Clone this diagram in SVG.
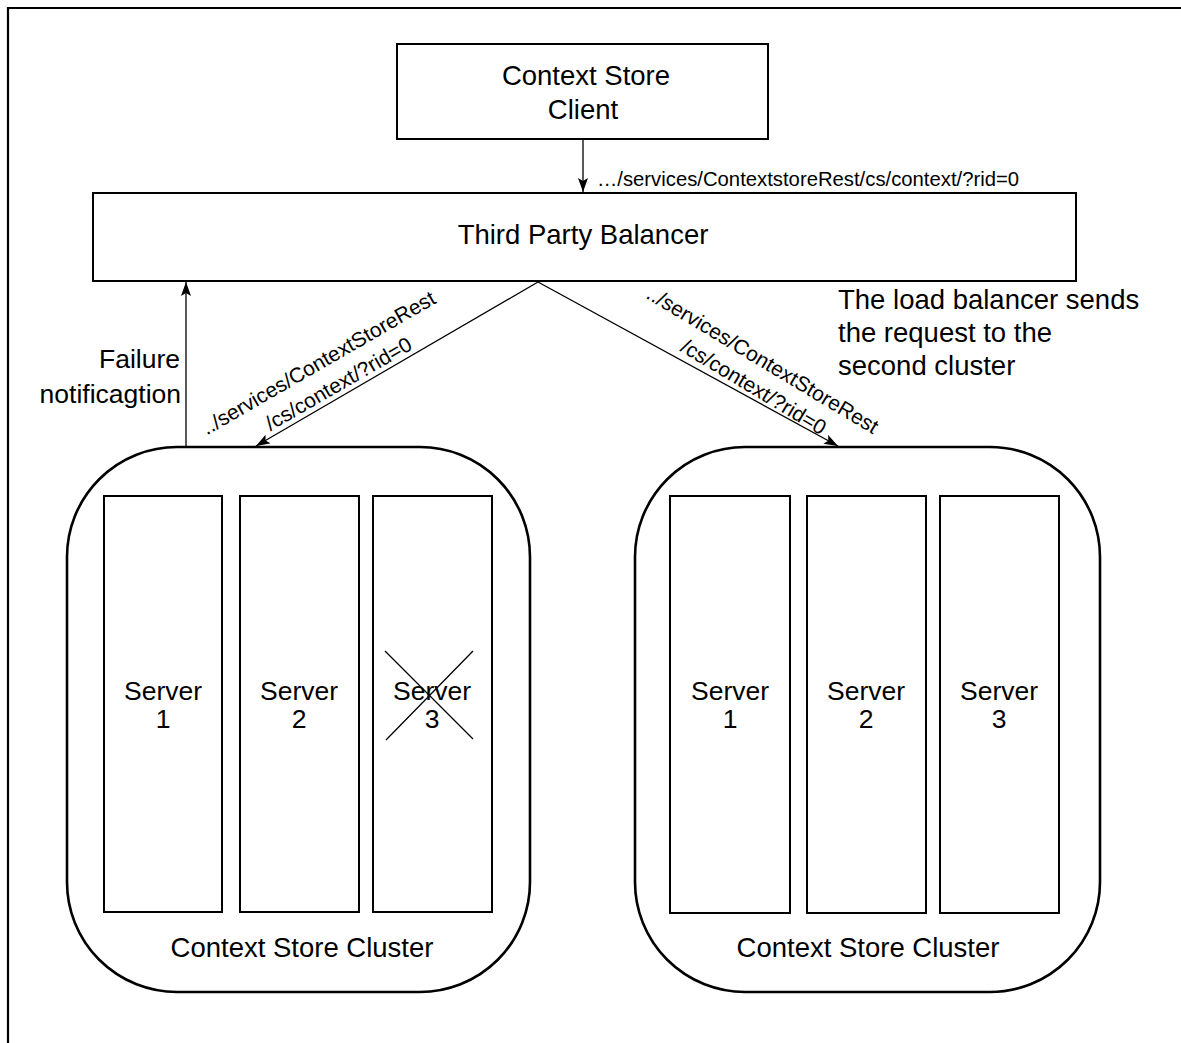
<svg xmlns="http://www.w3.org/2000/svg" width="1181" height="1043" viewBox="0 0 1181 1043">
<style>
text{font-family:"Liberation Sans",Arial,sans-serif;fill:#000}
.big{font-size:26.5px}
.hdr{font-size:27.5px}
.lbl{font-size:20.3px}
.dl{font-size:21px}
.box{fill:#fff;stroke:#000;stroke-width:2}
.cl{fill:#fff;stroke:#000;stroke-width:2.6}
.con{fill:none;stroke:#000;stroke-width:1.3}
</style>
<defs>
<marker id="ah" viewBox="0 0 14 10" refX="14" refY="5" markerWidth="14" markerHeight="10" markerUnits="userSpaceOnUse" orient="auto">
<path d="M0,0 L14,5 L0,10 L3,5 z" fill="#000"/>
</marker>
</defs>
<rect width="1181" height="1043" fill="#fff"/>
<path d="M1181,8 H8 V1043" fill="none" stroke="#000" stroke-width="2.2"/>

<g id="client">
<rect class="box" x="397" y="44" width="371" height="95"/>
<text class="hdr" x="586" y="85" text-anchor="middle">Context Store</text>
<text class="hdr" x="583" y="119" text-anchor="middle">Client</text>
</g>

<g id="balancer">
<rect class="box" x="93" y="193" width="983" height="88"/>
<text class="hdr" x="583" y="244" text-anchor="middle">Third Party Balancer</text>
</g>

<g id="cluster1">
<rect class="cl" x="67" y="447" width="463" height="545" rx="110" ry="110"/>
<g id="c1s1"><rect class="box" x="104" y="496" width="118" height="416"/>
<text class="big" x="163" y="700" text-anchor="middle">Server</text>
<text class="big" x="163" y="728" text-anchor="middle">1</text></g>
<g id="c1s2"><rect class="box" x="240" y="496" width="119" height="416"/>
<text class="big" x="299" y="700" text-anchor="middle">Server</text>
<text class="big" x="299" y="728" text-anchor="middle">2</text></g>
<g id="c1s3"><rect class="box" x="373" y="496" width="119" height="416"/>
<text class="big" x="432" y="700" text-anchor="middle">Server</text>
<text class="big" x="432" y="728" text-anchor="middle">3</text>
<path d="M385,651 L473,739 M473,651 L386,740" stroke="#000" stroke-width="1.3" fill="none"/></g>
<text class="hdr" x="302" y="957" text-anchor="middle">Context Store Cluster</text>
</g>

<g id="cluster2">
<rect class="cl" x="635" y="447" width="465" height="545" rx="110" ry="110"/>
<g id="c2s1"><rect class="box" x="670" y="496" width="120" height="417"/>
<text class="big" x="730" y="700" text-anchor="middle">Server</text>
<text class="big" x="730" y="728" text-anchor="middle">1</text></g>
<g id="c2s2"><rect class="box" x="807" y="496" width="119" height="417"/>
<text class="big" x="866" y="700" text-anchor="middle">Server</text>
<text class="big" x="866" y="728" text-anchor="middle">2</text></g>
<g id="c2s3"><rect class="box" x="940" y="496" width="119" height="417"/>
<text class="big" x="999" y="700" text-anchor="middle">Server</text>
<text class="big" x="999" y="728" text-anchor="middle">3</text></g>
<text class="hdr" x="868" y="957" text-anchor="middle">Context Store Cluster</text>
</g>

<g id="connectors">
<line class="con" x1="583" y1="139" x2="583" y2="192" marker-end="url(#ah)"/>
<line class="con" x1="186" y1="447" x2="186" y2="282" marker-end="url(#ah)"/>
<line class="con" x1="538" y1="282" x2="256" y2="446" marker-end="url(#ah)"/>
<line class="con" x1="538" y1="282" x2="838" y2="446" marker-end="url(#ah)"/>
</g>

<g id="labels">
<text class="lbl" x="597" y="186">…/services/ContextstoreRest/cs/context/?rid=0</text>
<text class="big" x="180" y="368" text-anchor="end">Failure</text>
<text class="big" x="181" y="403" text-anchor="end">notificagtion</text>
<text class="hdr" x="838" y="309">The load balancer sends</text>
<text class="hdr" x="838" y="342">the request to the</text>
<text class="hdr" x="838" y="375">second cluster</text>
<text class="dl" transform="translate(322,369) rotate(-30)" text-anchor="middle">../services/ContextStoreRest</text>
<text class="dl" transform="translate(342,390) rotate(-30)" text-anchor="middle">/cs/context/?rid=0</text>
<text class="dl" transform="translate(759,366) rotate(31)" text-anchor="middle">../services/ContextStoreRest</text>
<text class="dl" transform="translate(750,393) rotate(31)" text-anchor="middle">/cs/context/?rid=0</text>
</g>
</svg>
